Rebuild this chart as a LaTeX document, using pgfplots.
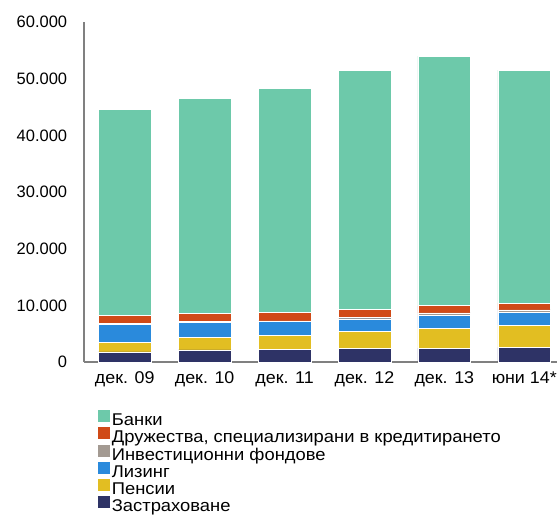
\documentclass[border=0pt]{standalone}
\usepackage{fontspec}
\setmainfont{Liberation Sans}
\newfontfamily\legfont[FakeStretch=1.08]{Liberation Sans}
\newfontfamily\xfont[FakeStretch=1.05]{Liberation Sans}
\usepackage{pgfplots}
\pgfplotsset{compat=1.18}
\definecolor{cB}{HTML}{6DC9AA}
\definecolor{cD}{HTML}{D04A17}
\definecolor{cI}{HTML}{A39A92}
\definecolor{cL}{HTML}{2A8ADC}
\definecolor{cP}{HTML}{E2BE22}
\definecolor{cZ}{HTML}{2E3366}
\begin{document}
\fontsize{17}{20}\selectfont
\begin{tikzpicture}
\useasboundingbox (-84pt,-155pt) rectangle (475pt,362pt);
\begin{axis}[
  at={(0pt,0pt)}, anchor=south west,
  scale only axis, width=473pt, height=340pt,
  ybar stacked, bar width=0.66,
  xmin=-0.51, xmax=5.41, ymin=0, ymax=60000,
  xtick={0,1,2,3,4,5},
  xticklabels={дек. 09,дек. 10,дек. 11,дек. 12,дек. 13,юни 14*},
  ytick={0,10000,20000,30000,40000,50000,60000},
  scaled y ticks=false,
  /pgf/number format/.cd, 1000 sep={.}, assume math mode=true, /pgfplots/.cd,
  axis lines=left,
  axis line style={draw=gray, line width=1.3pt, -},
  major tick length=0pt,
  tick style={draw=none},
  yticklabel style={xshift=-11pt, font=\fontsize{16.5}{20}\selectfont},
  xticklabel style={yshift=-4pt, font=\xfont\fontsize{17}{20}\selectfont},
  reverse legend,
  legend cell align=left,
  legend style={at={(13.7pt,-48pt)}, anchor=north west, draw=none, fill=none, inner sep=0pt,
    font=\legfont\fontsize{17}{20}\selectfont, row sep=-2.3pt,
    nodes={inner xsep=2pt, inner ysep=0pt, text height=12pt, text depth=4pt}},
  legend image code/.code={\fill[#1, draw=none] (0pt,-0.5pt) rectangle (12pt,11.5pt);},
  every axis plot/.append style={draw=white, line width=0.5pt},
]
\addplot[fill=cZ] coordinates {(0,1770) (1,2120) (2,2180) (3,2470) (4,2470) (5,2590)};
\addplot[fill=cP] coordinates {(0,1700) (1,2170) (2,2470) (3,3000) (4,3470) (5,3940)};
\addplot[fill=cL] coordinates {(0,3230) (1,2650) (2,2470) (3,2120) (4,2240) (5,2170)};
\addplot[fill=cI] coordinates {(0,180) (1,240) (2,120) (3,350) (4,470) (5,480)};
\addplot[fill=cD] coordinates {(0,1300) (1,1410) (2,1580) (3,1300) (4,1290) (5,1230)};
\addplot[fill=cB] coordinates {(0,36420) (1,37910) (2,39480) (3,42260) (4,44060) (5,41090)};
\legend{Застраховане,Пенсии,Лизинг,Инвестиционни фондове,{Дружества, специализирани в кредитирането},Банки}
\end{axis}
\end{tikzpicture}
\end{document}
